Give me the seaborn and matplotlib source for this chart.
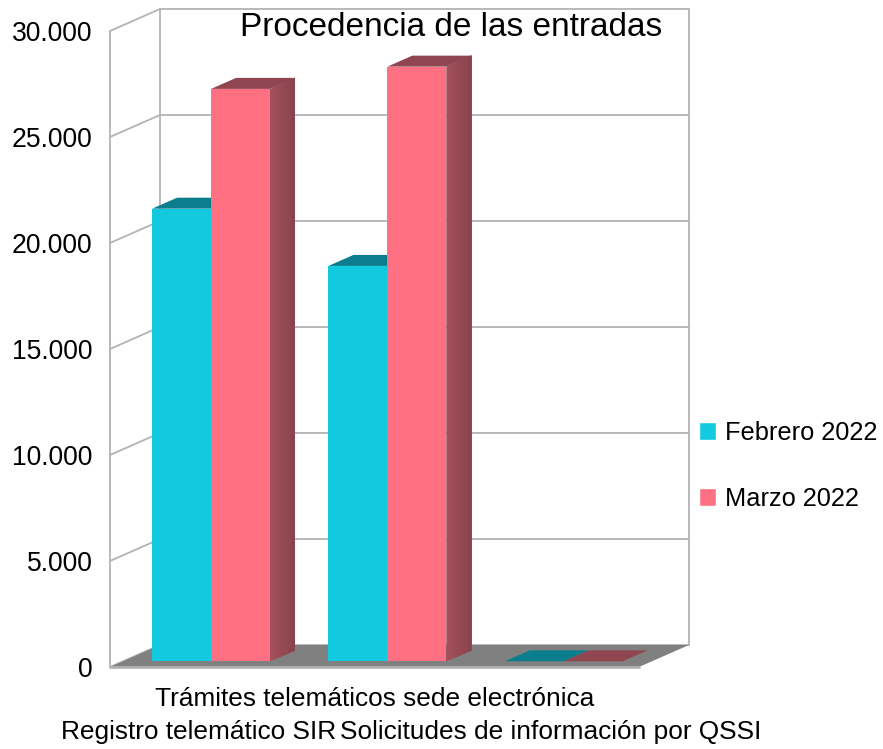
import numpy as np
import pandas as pd
import seaborn as sns
import matplotlib.pyplot as plt
from matplotlib.colors import to_rgb
from matplotlib.patches import Polygon
from matplotlib.transforms import Affine2D

# values
categories = ['Registro telemático SIR', 'Trámites telemáticos sede electrónica',
              'Solicitudes de información por QSSI']
feb_2022 = [21350, 18650, 0]
mar_2022 = [27000, 28050, 0]
y_ticks = [0, 5000, 10000, 15000, 20000, 25000, 30000]
y_labels = ['0', '5.000', '10.000', '15.000', '20.000', '25.000', '30.000']

df = pd.DataFrame({
    'Categoria': categories * 2,
    'Entradas': feb_2022 + mar_2022,
    'Mes': ['Febrero 2022'] * 3 + ['Marzo 2022'] * 3,
})

W, H = 883, 749
sns.set_theme(style='white')
plt.rcParams['font.family'] = ['Liberation Sans', 'DejaVu Sans']

fig = plt.figure(figsize=(W / 100, H / 100), dpi=100)


def px_axes(left, right, top, bottom):
    return fig.add_axes([left / W, 1 - bottom / H, (right - left) / W, (bottom - top) / H])


# front plane of the box: holds the ticks and labels
wall = px_axes(110, 639, 31, 667)
wall.set_xlim(-0.5, 2.5)
wall.set_ylim(0, 30000)
wall.patch.set_alpha(0)
sns.despine(ax=wall, left=True, bottom=True, top=True, right=True)
wall.set_yticks(y_ticks, y_labels)
wall.set_xticks(range(3), ['\n' + categories[0], categories[1], '\n' + categories[2]])
wall.tick_params(axis='y', length=0, pad=12.5, labelsize=19.1, labelcolor='black')
wall.tick_params(axis='x', length=0, pad=14.5, labelsize=18.95, labelcolor='black')
for lab in wall.get_xticklabels():
    lab.set_linespacing(1.46)

# back wall and side wall lines
grid_color = '#b3b3b3'
back = wall.transData + Affine2D().translate(50, 22)
for v in y_ticks:
    wall.plot([-0.5, 2.5], [v, v], color=grid_color, lw=1.3, transform=back, clip_on=False, zorder=1)
    p0 = wall.transData.transform((-0.5, v))
    wall.plot([p0[0], p0[0] + 50], [p0[1], p0[1] + 22], color=grid_color, lw=1.3,
              transform=None, clip_on=False, zorder=1)
wall.plot([-0.5, -0.5], [0, 30000], color=grid_color, lw=1.3, clip_on=False, zorder=1)
wall.plot([-0.5, -0.5], [0, 30000], color=grid_color, lw=1.3, transform=back, clip_on=False, zorder=1)
wall.plot([2.5, 2.5], [0, 30000], color=grid_color, lw=1.3, transform=back, clip_on=False, zorder=1)

# floor
a = wall.transData.transform([(-0.5, 0), (2.5, 0)])
floor = a.tolist() + (a[::-1] + [50, 22]).tolist()
wall.add_patch(Polygon(floor, closed=True, facecolor='#808080', edgecolor='none',
                       transform=None, clip_on=False, zorder=2))
wall.plot([-0.5, 2.5], [0, 0], color=grid_color, lw=2, clip_on=False, zorder=3)

# bars sit a bit inside the box, so they get their own axes
ax = px_axes(110, 639, 25.3, 661.3)
colors = {'Febrero 2022': '#12c9df', 'Marzo 2022': '#ff7082'}
sns.barplot(data=df, x='Categoria', y='Entradas', hue='Mes', palette=colors, width=0.668,
            saturation=1, ax=ax, zorder=5)
ax.set_xlim(-0.573, 2.427)
ax.set_ylim(0, 30000)
ax.axis('off')

# depth of the bars in data units
dx = 25 / (529 / 3)
dy = 11 / (636 / 30000)
top_colors = ['#0b7e8d', '#8f4650']
side_colors = [('#0c8a9a', '#0a7482'), ('#a2505c', '#88424b')]
for cont, top_c, side_c in zip(ax.containers, top_colors, side_colors):
    for bar in cont:
        x0, w, h = bar.get_x(), bar.get_width(), bar.get_height()
        x1 = x0 + w
        bar.set_edgecolor('none')
        ax.add_patch(Polygon([(x0, h), (x1, h), (x1 + dx, h + dy), (x0 + dx, h + dy)],
                             facecolor=top_c, edgecolor='none', clip_on=False, zorder=4))
        # side face shading: each strip runs to the far edge so no seams show
        n = 12
        for i in range(n):
            t0 = i / n
            c = np.array(to_rgb(side_c[0])) * (1 - t0) + np.array(to_rgb(side_c[1])) * t0
            ax.add_patch(Polygon([(x1 + dx * t0, h + dy * t0), (x1 + dx, h + dy),
                                  (x1 + dx, dy), (x1 + dx * t0, dy * t0)],
                                 facecolor=c, edgecolor='none', clip_on=False, zorder=4))

sns.move_legend(ax, 'center left', bbox_to_anchor=(676 / W, 1 - 466 / H),
                bbox_transform=fig.transFigure, frameon=False, title=None, fontsize=18.3,
                handlelength=0.68, handleheight=0.68, handletextpad=0.33, labelspacing=1.66,
                labelcolor='black')

fig.text(451 / W, 1 - 28 / H, 'Procedencia de las entradas', ha='center', va='center',
         fontsize=24, color='black')

fig.savefig('out.png', dpi=100)
